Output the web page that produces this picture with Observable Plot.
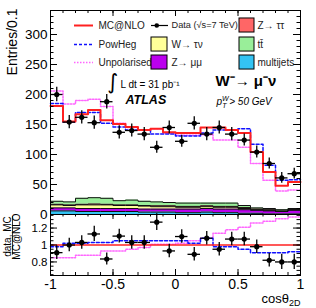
<!DOCTYPE html>
<html><head><meta charset="utf-8">
<script src="https://cdn.jsdelivr.net/npm/d3@7"></script>
<script src="https://cdn.jsdelivr.net/npm/@observablehq/plot@0.6"></script>
<style>
body{margin:0;background:#fff;}
#chart{position:relative;width:316px;height:308px;font-family:"Liberation Sans",Arial,Helvetica,sans-serif;}
#chart svg{position:absolute;left:0;overflow:visible;}
</style></head><body><div id="chart"></div>
<script>
// ---- data ----
const binEdges = [-1,-0.9,-0.8,-0.7,-0.6,-0.5,-0.4,-0.3,-0.2,-0.1,0,0.1,0.2,0.3,0.4,0.5,0.6,0.7,0.8,0.9,1];
const dataCounts = [200,154,162,153,188,137,140,134,112,145,122,152,134,145,134,124,104,85,61,68];
const dataErrors = [12,11,11,11,12,11,11,11,10,11,10,11,11,11,11,10,10,9,9,9];
const mcAtNlo = [181,155,167,174,157,151,146,141,143,137,136,136,145,145,141,136,104,71,48,54];
const powHeg = [185,154,170,170,152,146,141,141,134,134,131,131,136,141,141,143,117,82,57,58];
const unpolarised = [206,184,190,192,180,152,145,141,143,136,132,132,133,124,124,112,85,57,39,41];
const bkgMultijets = [6,6,5,5,5,5,5,4,4,4,3,3,4,3,3,2,2,1,1,1];
const bkgZmumu = [5,5,5,5,5,5,5,5,5,5,6,6,6,6,6,6,5,5,4,6];
const bkgWtaunu = [5,4,6,6,6,5,5,5,4,4,3,3,3,3,3,2,1,1,0.5,1];
const bkgZtautau = [1,1,1,1.5,1,1,1,1,1.5,1.5,1.5,1.5,1.5,1.5,1.5,1.5,1,1,0.5,0.5];
const bkgTtbar = [5,5,10,10.5,10,7,8,7,6.5,5.5,5.5,5.5,4.5,5.5,5.5,3.5,2,2,2,1.5];
const ratioData = [0.91,1.00,1.03,1.13,0.835,1.105,1.03,1.03,1.27,0.93,1.10,0.89,1.08,0.95,1.07,1.07,0.98,0.82,0.80,0.80];
const ratioErrors = [0.08,0.08,0.08,0.09,0.07,0.08,0.08,0.08,0.1,0.08,0.08,0.08,0.08,0.08,0.08,0.08,0.08,0.08,0.09,0.09];
const ratioPowHeg = [0.98,1.02,1.02,1.03,1.03,1.05,1.05,1.05,1.05,1.05,1.05,1.02,1.08,0.98,0.98,0.95,0.91,0.91,0.91,0.92];
const ratioUnpolarised = [0.85,0.85,0.88,0.88,0.93,0.93,0.95,0.97,1.01,1.01,1.02,1.05,1.08,1.14,1.18,1.21,1.26,1.28,1.31,1.33];
const xTickLabels = [-1,-0.5,0,0.5,1];
const yTickLabels = [0,50,100,150,200,250,300];
const ratioTickLabels = [0.8,1,1.2];

// ---- helpers ----
const centers = binEdges.slice(0,-1).map((e,i)=>(e+binEdges[i+1])/2);
const steps = vals => binEdges.map((x,i)=>({x, y: vals[Math.min(i, vals.length-1)]}));
const points = (vals, errs) => centers.map((x,i)=>({x, y: vals[i], e: errs[i]}));
const FONT = '"Liberation Sans", Arial, Helvetica, sans-serif';
const innerW = 250, mainInnerH = 204, ratioInnerH = 61;
const xMinor = d3.range(-10,11).map(i=>i/10);
const yMinor = d3.range(0,341,10);
const rMinor = d3.range(13,28).map(i=>i*0.05);

const C_MC = "#ff2020", C_PH = "#1010ff", C_UN = "#ff66ff";
const layers = [
  {name:"multijets", values:bkgMultijets, color:"#33c3f3"},
  {name:"Zmumu", values:bkgZmumu, color:"#bb00ee"},
  {name:"Wtaunu", values:bkgWtaunu, color:"#ffff99"},
  {name:"Ztautau", values:bkgZtautau, color:"#ff6666"},
  {name:"ttbar", values:bkgTtbar, color:"#99ee99"}
];
const stackData = layers.flatMap(L => steps(L.values).map(d=>({...d, layer:L.name, color:L.color})));

const dataPts = points(dataCounts, dataErrors);
const ratioPts = points(ratioData, ratioErrors);

// legend geometry (in data units of main panel)
const rowY = [315, 283.3, 253.3];
const legendLabels = ["MC@NLO","PowHeg","Unpolarised"];
const legendBoxes = [
  {label:"W→ τν", color:"#ffff99", col:0, row:1},
  {label:"Z→ μμ", color:"#bb00ee", col:0, row:2},
  {label:"Z→ ττ", color:"#ff6666", col:1, row:0},
  {label:"tt̄", color:"#99ee99", col:1, row:1},
  {label:"multijets", color:"#33c3f3", col:1, row:2}
];
const boxX = [[-0.192,-0.064],[0.512,0.632]];
const boxTextX = [-0.032, 0.656];

const main = Plot.plot({
  width:316, height:215, marginTop:10, marginBottom:1, marginLeft:50, marginRight:16,
  x:{domain:[-1,1], axis:null, label:null},
  y:{domain:[0,340], label:null},
  color:{type:"identity"},
  style:{fontFamily:FONT, fontSize:"13px", color:"black", background:"transparent", overflow:"visible"},
  marks:[
    Plot.areaY(stackData, Plot.stackY({x:"x", y:"y", z:"layer", fill:"color", curve:"step-after"})),
    Plot.lineY(stackData, Plot.stackY2({x:"x", y:"y", z:"layer", curve:"step-after", stroke:"#111", strokeWidth:1})),
    Plot.lineY(steps(unpolarised), {x:"x", y:"y", curve:"step-after", stroke:C_UN, strokeWidth:1.5, strokeDasharray:"1.5,1.5"}),
    Plot.lineY(steps(powHeg), {x:"x", y:"y", curve:"step-after", stroke:C_PH, strokeWidth:1.5, strokeDasharray:"3,2"}),
    Plot.lineY(steps(mcAtNlo), {x:"x", y:"y", curve:"step-after", stroke:C_MC, strokeWidth:2}),
    Plot.ruleX(dataPts, {x:"x", y1:d=>d.y-d.e, y2:d=>d.y+d.e, stroke:"black", strokeWidth:1.3}),
    Plot.ruleY(dataPts, {y:"y", x1:d=>d.x-0.05, x2:d=>d.x+0.05, stroke:"black", strokeWidth:1.3}),
    Plot.dot(dataPts, {x:"x", y:"y", r:2.6, fill:"black", stroke:null}),
    // ticks
    Plot.tickY(yTickLabels, {y:d=>d, insetRight:innerW-7, stroke:"black"}),
    Plot.tickY(yMinor, {y:d=>d, insetRight:innerW-3.5, stroke:"black"}),
    Plot.tickY(yTickLabels, {y:d=>d, insetLeft:innerW-7, stroke:"black"}),
    Plot.tickY(yMinor, {y:d=>d, insetLeft:innerW-3.5, stroke:"black"}),
    Plot.tickX(xTickLabels, {x:d=>d, insetBottom:mainInnerH-6, stroke:"black"}),
    Plot.tickX(xMinor, {x:d=>d, insetBottom:mainInnerH-3, stroke:"black"}),
    Plot.axisY({ticks:yTickLabels, tickSize:0, tickPadding:3, tickFormat:d=>String(d), label:null, fontSize:13.5}),
    Plot.frame({stroke:"black", strokeWidth:1}),
    Plot.text(["Entries/0.1"], {frameAnchor:"top-left", dx:-38, dy:-2, rotate:-90, textAnchor:"end", lineAnchor:"middle", fontSize:14}),
    // legend
    Plot.ruleY([rowY[0]], {y:d=>d, x1:-0.808, x2:-0.656, stroke:C_MC, strokeWidth:2}),
    Plot.ruleY([rowY[1]], {y:d=>d, x1:-0.808, x2:-0.656, stroke:C_PH, strokeWidth:1.5, strokeDasharray:"3,2"}),
    Plot.ruleY([rowY[2]], {y:d=>d, x1:-0.808, x2:-0.656, stroke:C_UN, strokeWidth:1.5, strokeDasharray:"1.5,1.5"}),
    Plot.text(legendLabels, {y:(d,i)=>rowY[i], x:-0.616, text:d=>d, textAnchor:"start", fontSize:10, fill:"#222"}),
    Plot.ruleY([rowY[0]], {y:d=>d, x1:-0.192, x2:-0.056, stroke:"black", strokeWidth:1.2}),
    Plot.dot([rowY[0]], {y:d=>d, x:-0.15, r:2.3, fill:"black"}),
    Plot.text(["Data (√s=7 TeV)"], {y:rowY[0], x:-0.032, textAnchor:"start", fontSize:9.2, fill:"#222"}),
    Plot.rect(legendBoxes, {x1:d=>boxX[d.col][0], x2:d=>boxX[d.col][1], y1:d=>rowY[d.row]-11.7, y2:d=>rowY[d.row]+11.7, fill:"color", stroke:"black", strokeWidth:1}),
    Plot.text(legendBoxes, {x:d=>boxTextX[d.col], y:d=>rowY[d.row], text:"label", textAnchor:"start", fontSize:10, fill:"#222"}),
    // annotations
    Plot.text(["∫"], {x:-0.5, y:220, fontSize:21, fontFamily:"DejaVu Sans", textAnchor:"middle"}),
    Plot.text(["L dt = 31 pb⁻¹"], {x:-0.44, y:216, textAnchor:"start", fontSize:10}),
    Plot.text(["ATLAS"], {x:-0.4, y:191, textAnchor:"start", fontSize:12.5, fontWeight:"bold", fontStyle:"italic"}),
    Plot.text(["W⁻→ μ⁻ν"], {x:0.32, y:222, textAnchor:"start", fontSize:15, fontWeight:"bold"}),
    Plot.text(["pTW > 50 GeV"], {x:0.328, y:188, textAnchor:"start", fontSize:10, fontStyle:"italic"})
  ]
});

const ratio = Plot.plot({
  width:316, height:94, marginTop:0, marginBottom:33, marginLeft:50, marginRight:16,
  x:{domain:[-1,1], label:null},
  y:{domain:[0.64,1.36], label:null},
  style:{fontFamily:FONT, fontSize:"13px", color:"black", background:"transparent", overflow:"visible"},
  marks:[
    Plot.lineY(steps(ratioUnpolarised), {x:"x", y:"y", curve:"step-after", stroke:C_UN, strokeWidth:1.5, strokeDasharray:"1.5,1.5"}),
    Plot.lineY(steps(ratioPowHeg), {x:"x", y:"y", curve:"step-after", stroke:C_PH, strokeWidth:1.5, strokeDasharray:"3,2"}),
    Plot.ruleY([1], {stroke:C_MC, strokeWidth:1.5}),
    Plot.ruleX(ratioPts, {x:"x", y1:d=>d.y-d.e, y2:d=>d.y+d.e, stroke:"black", strokeWidth:1.3}),
    Plot.ruleY(ratioPts, {y:"y", x1:d=>d.x-0.05, x2:d=>d.x+0.05, stroke:"black", strokeWidth:1.3}),
    Plot.dot(ratioPts, {x:"x", y:"y", r:2.6, fill:"black", stroke:null}),
    Plot.tickY(ratioTickLabels, {y:d=>d, insetRight:innerW-7, stroke:"black"}),
    Plot.tickY(rMinor, {y:d=>d, insetRight:innerW-3.5, stroke:"black"}),
    Plot.tickY(ratioTickLabels, {y:d=>d, insetLeft:innerW-7, stroke:"black"}),
    Plot.tickY(rMinor, {y:d=>d, insetLeft:innerW-3.5, stroke:"black"}),
    Plot.tickX(xTickLabels, {x:d=>d, insetTop:ratioInnerH-6, stroke:"black"}),
    Plot.tickX(xMinor, {x:d=>d, insetTop:ratioInnerH-3, stroke:"black"}),
    Plot.tickX(xTickLabels, {x:d=>d, insetBottom:ratioInnerH-5, stroke:"black"}),
    Plot.tickX(xMinor, {x:d=>d, insetBottom:ratioInnerH-2.5, stroke:"black"}),
    Plot.axisY({ticks:ratioTickLabels, tickSize:0, tickPadding:3, tickFormat:d=>String(d), label:null, fontSize:11.5}),
    Plot.axisX({ticks:xTickLabels, tickSize:0, tickPadding:4, tickFormat:d=>String(d), label:null, fontSize:14}),
    Plot.frame({stroke:"black", strokeWidth:1}),
    Plot.text(["cosθ2D"], {frameAnchor:"bottom-right", dy:27, textAnchor:"end", fontSize:13}),
    Plot.text(["data, MC"], {frameAnchor:"top-left", dx:-43, dy:22, rotate:-90, textAnchor:"middle", lineAnchor:"middle", fontSize:10}),
    Plot.text(["MC@NLO"], {frameAnchor:"top-left", dx:-33.5, dy:22, rotate:-90, textAnchor:"middle", lineAnchor:"middle", fontSize:10}),
    Plot.ruleX([-1.304], {x:d=>d, y1:1.336, y2:0.88, stroke:"black", strokeWidth:0.8})
  ]
});

const chart = document.getElementById("chart");
main.style.top = "0px";
ratio.style.top = "214px";
chart.appendChild(main);
chart.appendChild(ratio);

function richText(svg, plain, build){
  d3.select(svg).selectAll("text").filter(function(){return this.textContent===plain;}).each(function(){
    const t = d3.select(this); t.text(null); build(t);
  });
}
richText(main, "pTW > 50 GeV", t=>{
  t.append("tspan").text("p");
  t.append("tspan").attr("dy",-4).attr("font-size",7).text("W");
  t.append("tspan").attr("dx",-6.5).attr("dy",7.5).attr("font-size",7).text("T");
  t.append("tspan").attr("dy",-3.5).text(" > 50 GeV");
});
richText(ratio, "cosθ2D", t=>{
  t.append("tspan").text("cosθ");
  t.append("tspan").attr("dy",3).attr("font-size",9).text("2D");
});
</script></body></html>
